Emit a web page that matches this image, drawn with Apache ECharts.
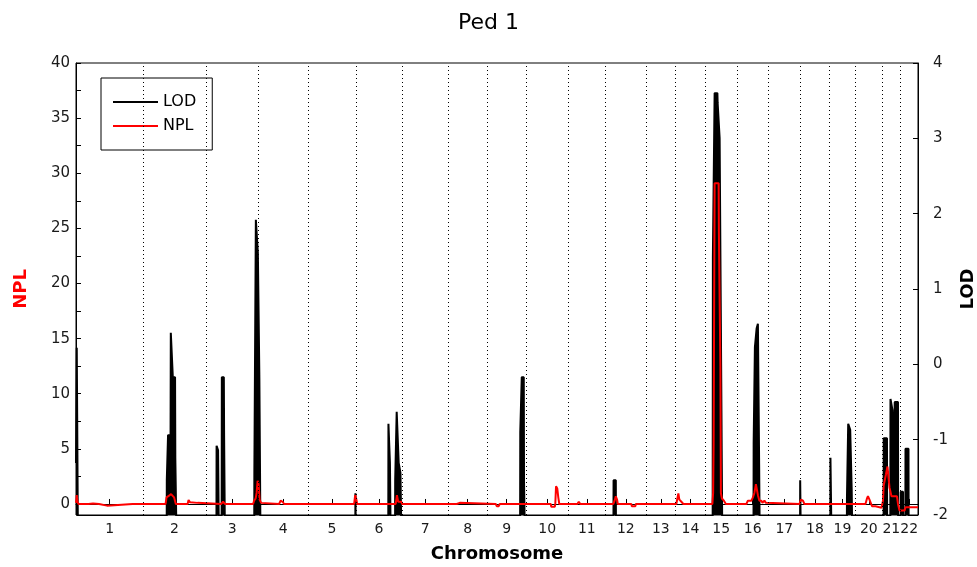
<!DOCTYPE html>
<html><head><meta charset="utf-8">
<script src="https://cdn.jsdelivr.net/npm/echarts@6/dist/echarts.min.js"></script>
<style>html,body{margin:0;padding:0;background:#fff}#c{width:977px;height:567px}</style>
</head><body><div id="c"></div>
<script>
const chromosomes = ['1','2','3','4','5','6','7','8','9','10','11','12','13','14','15','16','17','18','19','20','21','22'];
const chrLengths = [269,250,210,198,193,183,185,155,157,167,150,162,118,119,127,124,129,116,104,107,73,70];
const nplTickLabels = [0,5,10,15,20,25,30,35,40];
const nplTickMarks = [0,2.5,5,7.5,10,12.5,15,17.5,20,22.5,25,27.5,30,32.5,35,37.5,40];
const lodTickLabels = [-2,-1,0,1,2,3,4];

// [genome position (cM), LOD]
const lodPoints = [
[0,-1.31],[2,-1.31],[3,0.22],[8,0.22],[9,-3],
[362,-3],[363,-1.54],[367,-1.54],[368,-0.94],[378,-0.94],[379,0.42],[386,0.42],[387,-0.17],[396,-0.17],[397,-1.24],[404,-1.24],[405,-3],
[561,-3],[562,-1.08],[567,-1.08],[568,-1.14],[572,-1.14],[573,-3],
[582,-3],[583,-0.17],[591,-0.17],[592,-0.91],[596,-0.91],[597,-3],
[712,-3],[713,-1.43],[718,-1.43],[719,1.92],[726,1.92],[727,1.48],[732,1.48],[733,-0.17],[738,-0.17],[739,-3],
[1116,-3],[1117,-1.71],[1120,-1.71],[1121,-3],
[1248,-3],[1249,-0.79],[1254,-0.79],[1255,-1.31],[1259,-1.31],[1260,-3],
[1275,-3],[1276,-1.54],[1281,-1.54],[1282,-0.63],[1289,-0.63],[1290,-1.31],[1296,-1.31],[1297,-1.44],[1303,-1.44],[1304,-3],
[1775,-3],[1776,-0.90],[1781,-0.90],[1782,-0.17],[1790,-0.17],[1791,-1.56],[1797,-1.56],[1798,-3],
[2148,-3],[2149,-1.54],[2158,-1.54],[2159,-3],
[2545,-3],[2546,1.41],[2552,1.41],[2553,3.6],[2564,3.6],[2565,3.47],[2572,3.47],[2573,3.0],[2578,3.0],[2579,-0.01],[2584,-0.01],[2585,-3],
[2708,-3],[2709,-1.04],[2713,-1.04],[2714,0.23],[2720,0.23],[2721,0.48],[2725,0.48],[2726,0.54],[2730,0.54],[2731,-1.35],[2734,-1.35],[2735,-3],
[2894,-3],[2895,-1.54],[2899,-1.54],[2900,-3],
[3015,-3],[3016,-1.24],[3022,-1.24],[3023,-3],
[3081,-3],[3082,-1.77],[3086,-1.77],[3087,-0.79],[3094,-0.79],[3095,-0.87],[3100,-0.87],[3101,-1.68],[3105,-1.68],[3106,-3],
[3228,-3],[3229,-0.98],[3242,-0.98],[3243,-3],
[3255,-3],[3256,-0.46],[3263,-0.46],[3264,-0.61],[3268,-0.61],[3269,-1.2],[3272,-1.2],[3273,-0.50],[3286,-0.50],[3287,-3],
[3296,-3],[3297,-1.69],[3306,-1.69],[3307,-3],
[3315,-3],[3316,-1.12],[3328,-1.12],[3329,-3],[3366,-3]
];

// [genome position (cM), NPL]
const nplPoints = [
[0,0.1],[3,0.8],[6,0.2],[10,0],[40,0],[44,0.15],[50,0],[68,0.05],[92,0],[96,-0.15],[124,-0.15],[128,0],[226,0],[228,0.1],[232,0],
[358,0],[362,0.6],[372,0.75],[380,0.9],[392,0.6],[397,0.6],[399,0],[446,0],[450,0.35],[456,0.15],[486,0.1],[490,0],
[580,0],[588,0.2],[596,0],
[708,0],[712,0.3],[718,0.5],[722,1.0],[726,2.1],[730,1.8],[734,0.4],[740,0.1],[744,0],
[812,0],[818,0.3],[826,0.2],[832,0],[876,0],[880,0.15],[884,0],
[1112,0],[1116,0.8],[1120,0.5],[1124,0],
[1278,0],[1283,0.8],[1288,0.2],[1300,0.2],[1304,0],
[1522,0],[1526,0.1],[1534,0.1],[1538,0],
[1678,0],[1682,-0.2],[1690,-0.2],[1694,0],
[1898,0],[1900,-0.25],[1914,-0.25],[1916,0],[1919,1.6],[1924,1.4],[1928,0.6],[1932,0],
[2004,0],[2010,0.2],[2016,0],
[2148,0],[2153,0.3],[2158,0.7],[2163,0.4],[2166,0],
[2220,0],[2222,-0.2],[2236,-0.2],[2238,0],
[2400,0],[2404,0.5],[2408,0.95],[2412,0.4],[2420,0.2],[2428,0],
[2544,0],[2547,1.0],[2549,5.5],[2552,5.5],[2553,29.1],[2569,29.1],[2570,24.7],[2575,24.7],[2576,12.5],[2578,1.0],[2582,0.5],[2590,0.3],[2598,0],
[2680,0],[2686,0.3],[2700,0.3],[2706,0.6],[2712,1.0],[2718,1.8],[2722,1.8],[2726,0.8],[2732,0.3],[2740,0.3],[2744,0.1],[2752,0.3],[2758,0.1],[2764,0],
[2892,0],[2898,0.4],[2906,0.3],[2912,0],
[3156,0],[3162,0.5],[3166,0.7],[3172,0.4],[3178,0.5],[3182,-0.2],[3196,-0.2],[3200,-0.35],[3220,-0.35],[3226,0.3],[3229,1.7],[3236,1.7],[3238,2.7],[3243,2.7],[3244,3.4],[3250,3.4],[3252,1.5],[3258,1.5],[3260,0.7],[3282,0.7],[3286,0],[3292,-0.6],[3312,-0.6],[3316,-0.3],[3366,-0.3]
];

const boundaries = [0];
chrLengths.forEach(l => boundaries.push(boundaries[boundaries.length-1] + l));
const midpoints = chrLengths.map((l,i) => boundaries[i] + l/2);
const genomeLength = boundaries[boundaries.length-1];

const FONT = 'DejaVu Sans';
const LINE_ICON = 'path://M0,0L45,0L45,2.2L0,2.2Z';
const chart = echarts.init(document.getElementById('c'), null, {renderer:'canvas'});
chart.setOption({
  animation: false,
  backgroundColor: '#fff',
  title: { text: 'Ped 1', left: 'center', top: 7, textStyle: { fontFamily: FONT, fontSize: 22, fontWeight: 'normal', color: '#000' } },
  legend: {
    left: 101, top: 78, orient: 'vertical',
    data: [{ name: 'LOD', icon: LINE_ICON }, { name: 'NPL', icon: LINE_ICON }],
    backgroundColor: '#fff', borderColor: '#000', borderWidth: 1,
    padding: [16,16,16,12], itemWidth: 45, itemHeight: 14, itemGap: 8,
    textStyle: { fontFamily: FONT, fontSize: 16, color: '#000' }
  },
  grid: { left: 76, right: 59, top: 63, bottom: 52, show: true, borderColor: '#000', borderWidth: 1, backgroundColor: 'transparent', outerBoundsMode: 'none', containLabel: false },
  xAxis: {
    type: 'value', min: 0, max: genomeLength,
    name: 'Chromosome', nameLocation: 'middle', nameGap: 30,
    nameTextStyle: { fontFamily: FONT, fontSize: 18, fontWeight: 'bold', color: '#000' },
    axisLine: { lineStyle: { color: '#000' } },
    axisTick: { inside: true, length: 5, customValues: midpoints, lineStyle: { color: '#000' } },
    axisLabel: { customValues: midpoints, margin: 7, hideOverlap: false, showMinLabel: true, showMaxLabel: true,
      fontFamily: FONT, fontSize: 14, color: '#1a1a1a',
      formatter: v => { let best = 0; midpoints.forEach((m,i) => { if (Math.abs(m - v) < Math.abs(midpoints[best] - v)) best = i; }); return chromosomes[best]; } },
    splitLine: { show: false }
  },
  yAxis: [
    {
      type: 'value', min: -1, max: 40, position: 'left',
      name: 'NPL', nameLocation: 'middle', nameGap: 46,
      nameTextStyle: { fontFamily: FONT, fontSize: 18, fontWeight: 'bold', color: '#ff0000' },
      axisLine: { show: true, lineStyle: { color: '#000' } },
      axisTick: { show: true, inside: true, length: 5, customValues: nplTickMarks, lineStyle: { color: '#000' } },
      axisLabel: { customValues: nplTickLabels, margin: 6, fontFamily: FONT, fontSize: 15, color: '#1a1a1a' },
      splitLine: { show: false }
    },
    {
      type: 'value', min: -2, max: 4, interval: 1, position: 'right',
      name: 'LOD', nameLocation: 'middle', nameGap: 40,
      nameTextStyle: { fontFamily: FONT, fontSize: 18, fontWeight: 'bold', color: '#000' },
      axisLine: { show: true, lineStyle: { color: '#000' } },
      axisTick: { show: true, inside: true, length: 5, lineStyle: { color: '#000' } },
      axisLabel: { customValues: lodTickLabels, margin: 15, fontFamily: FONT, fontSize: 15, color: '#1a1a1a' },
      splitLine: { show: false }
    }
  ],
  series: [
    {
      name: 'LOD', type: 'line', yAxisIndex: 1, data: lodPoints, symbol: 'none', z: 2,
      lineStyle: { color: '#000', width: 2 }, itemStyle: { color: '#000' },
      areaStyle: { color: '#000', opacity: 1, origin: 'start' }, clip: true,
      markLine: {
        silent: true, symbol: 'none', label: { show: false },
        lineStyle: { color: '#000', type: [1,3], width: 1 },
        data: boundaries.slice(1, -1).map(b => ({ xAxis: b }))
      }
    },
    {
      name: 'NPL', type: 'line', yAxisIndex: 0, data: nplPoints, symbol: 'none', z: 3,
      lineStyle: { color: '#ff0000', width: 2 }, itemStyle: { color: '#ff0000' }, clip: true
    }
  ]
});
</script>
</body></html>
